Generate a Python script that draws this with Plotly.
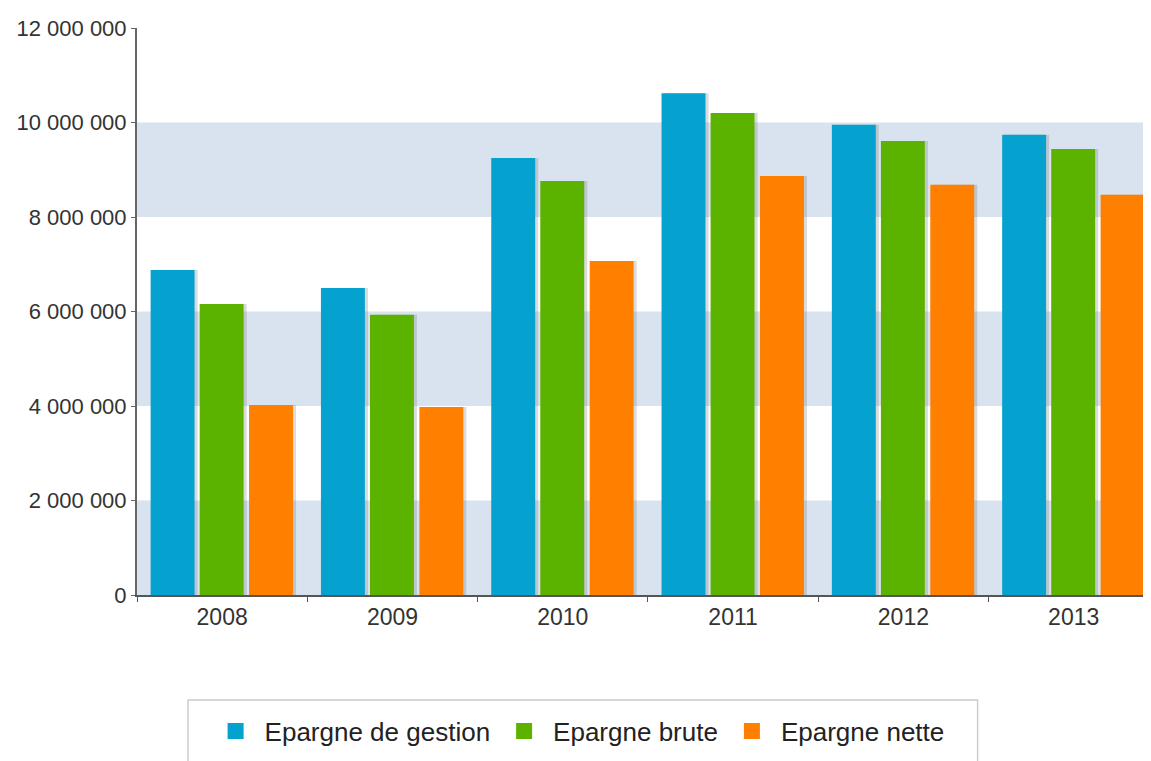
import plotly.graph_objects as go

years = ['2008', '2009', '2010', '2011', '2012', '2013']
epargne_gestion = [6880000, 6500000, 9250000, 10620000, 9950000, 9740000]
epargne_brute = [6160000, 5930000, 8760000, 10200000, 9610000, 9440000]
epargne_nette = [4020000, 3980000, 7070000, 8870000, 8680000, 8470000]

series = [
    ('Epargne de gestion', epargne_gestion, '#05a1cf'),
    ('Epargne brute', epargne_brute, '#5bb300'),
    ('Epargne nette', epargne_nette, '#ff8000'),
]

# alternating bands behind the bars
bands = [(0, 2000000), (4000000, 6000000), (8000000, 10000000)]

bar_w = 0.258
offsets = [-0.42, -0.132, 0.158]
shadow_dx = 0.018

fig = go.Figure()
# soft drop shadows
for (name, vals, col), off in zip(series, offsets):
    fig.add_trace(go.Bar(x=years, y=vals, width=bar_w, offset=off + shadow_dx,
                         marker_color='rgba(90,90,90,0.22)', marker_line_width=0,
                         showlegend=False, hoverinfo='skip'))
for (name, vals, col), off in zip(series, offsets):
    fig.add_trace(go.Bar(x=years, y=vals, name=name, width=bar_w, offset=off,
                         marker_color=col, marker_line_width=0, showlegend=False))

# legend entries with bigger square swatches
for name, vals, col in series:
    fig.add_trace(go.Scatter(x=[None], y=[None], mode='markers', name=name,
                             marker=dict(symbol='square', size=16, color=col)))

shapes = []
for y0, y1 in bands:
    shapes.append(dict(type='rect', xref='paper', yref='y', x0=0, x1=1,
                       y0=y0, y1=y1, fillcolor='#d9e3f0', line_width=0,
                       layer='below'))
# legend frame
shapes.append(dict(type='rect', xref='paper', yref='paper', x0=0.0503, x1=0.829,
                   y0=-0.185, y1=-0.32, line=dict(color='#cccccc', width=1.5),
                   fillcolor='rgba(0,0,0,0)'))

fig.update_layout(
    width=1143, height=753,
    margin=dict(l=129, r=0, t=20, b=166),
    paper_bgcolor='white', plot_bgcolor='white',
    font=dict(family='Liberation Sans, Arial, sans-serif', color='#333', size=20),
    separators=', ',
    barmode='overlay',
    shapes=shapes,
    showlegend=True,
    legend=dict(orientation='h', x=0.435, xanchor='center', y=-0.240, yanchor='middle',
                font=dict(size=26, color='#222'), borderwidth=0,
                bgcolor='rgba(0,0,0,0)', itemwidth=48, itemsizing='trace',
                traceorder='normal'),
    xaxis=dict(range=[-0.5, 5.454], showline=True, linecolor='#555', linewidth=2,
               ticks='outside', tickson='boundaries', ticklen=5, tickcolor='#555',
               showgrid=False, tickfont=dict(size=23)),
    yaxis=dict(range=[0, 12000000], dtick=2000000, tickformat=',d', showline=True,
               linecolor='#666', linewidth=2, ticks='outside', ticklen=4,
               tickcolor='#666', showgrid=False, zeroline=False,
               tickfont=dict(size=22)),
)

fig.write_html('out.html')
